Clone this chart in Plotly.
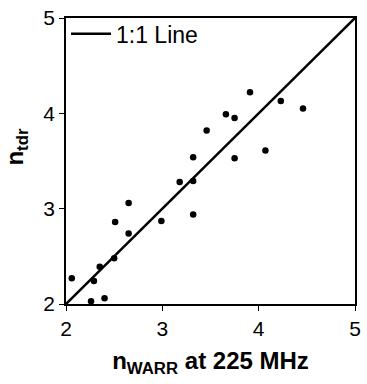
import plotly.graph_objects as go

n_warr = [2.06, 2.29, 2.26, 2.40, 2.35, 2.50, 2.51, 2.65, 2.65, 2.99, 3.18,
          3.32, 3.32, 3.32, 3.46, 3.66, 3.75, 3.75, 3.91, 4.07, 4.23, 4.46]
n_tdr = [2.27, 2.24, 2.03, 2.06, 2.39, 2.48, 2.86, 2.74, 3.06, 2.87, 3.28,
         3.29, 3.54, 2.94, 3.82, 3.99, 3.95, 3.53, 4.22, 3.61, 4.13, 4.05]
line_x = [2, 5]
line_y = [2, 5]
ticks = [2, 3, 4, 5]

FONT = "Liberation Sans, Arial, sans-serif"

fig = go.Figure()
fig.add_trace(go.Scatter(x=line_x, y=line_y, mode="lines", name="1:1 Line",
                         line=dict(color="black", width=2.5), cliponaxis=False))
fig.add_trace(go.Scatter(x=n_warr, y=n_tdr, mode="markers", showlegend=False,
                         marker=dict(color="black", size=6.5), cliponaxis=False))

axis_common = dict(range=[2, 5], tickvals=ticks, ticks="outside", ticklen=5,
                   tickwidth=1.2, tickcolor="black", showline=True, linecolor="black",
                   linewidth=1.5, mirror=True, showgrid=False, zeroline=False,
                   tickfont=dict(family=FONT, size=21, color="black"))

fig.update_layout(
    width=367, height=384,
    margin=dict(l=66, r=6, t=13, b=80),
    paper_bgcolor="white", plot_bgcolor="white",
    font=dict(family=FONT, color="black"),
    xaxis=dict(**axis_common,
               title=dict(text="<b>n<sub>WARR</sub> at 225 MHz</b>",
                          font=dict(family=FONT, size=24), standoff=13)),
    yaxis=dict(**axis_common),
    legend=dict(x=0.0, y=1.02, xanchor="left", yanchor="top",
                bgcolor="rgba(0,0,0,0)", itemwidth=40,
                font=dict(family=FONT, size=23, color="black")),
    annotations=[dict(text="<b>n<sub>tdr</sub></b>", textangle=-90,
                      xref="paper", yref="paper", x=-0.17, y=0.55,
                      xanchor="center", yanchor="middle", showarrow=False,
                      font=dict(family=FONT, size=24, color="black"))],
)

fig.write_html("out.html")
